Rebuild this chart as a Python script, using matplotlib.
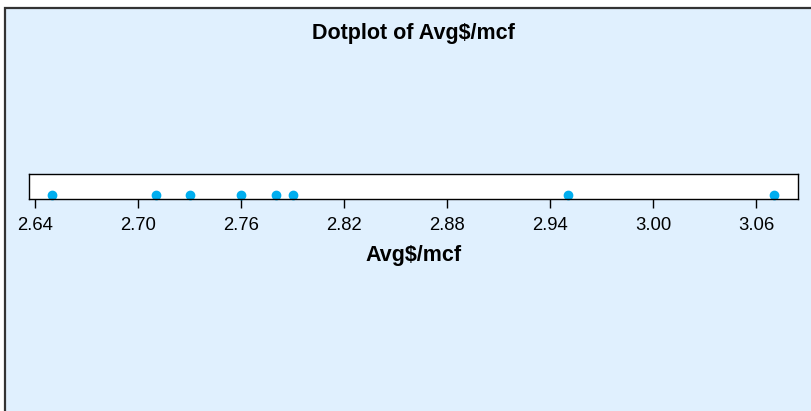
import matplotlib.pyplot as plt
from matplotlib.patches import Rectangle

plt.rcParams['font.family'] = ['Liberation Sans', 'DejaVu Sans']

# average price per mcf
avg_price = [2.65, 2.71, 2.73, 2.76, 2.78, 2.79, 2.95, 3.07]
ticks = [2.64, 2.70, 2.76, 2.82, 2.88, 2.94, 3.00, 3.06]
tick_labels = ['2.64', '2.70', '2.76', '2.82', '2.88', '2.94', '3.00', '3.06']

fig = plt.figure(figsize=(8.11, 4.11), dpi=100)
fig.patch.set_facecolor('white')

# light blue panel behind everything
panel = Rectangle((5 / 811, -0.1), 1.1, 1 - 7.5 / 411 + 0.1,
                  transform=fig.transFigure, facecolor='#e0f0fe',
                  edgecolor='#333333', linewidth=1.6, zorder=-5)
fig.patches.append(panel)

ax = fig.add_axes([29.3 / 811, 1 - 199.3 / 411, 768.4 / 811, 25 / 411])
ax.set_facecolor('white')
ax.plot(avg_price, [0.17] * len(avg_price), 'o', color='#00aeef',
        markersize=6, clip_on=False)

ax.set_xlim(2.6365, 3.084)
ax.set_ylim(0, 1)
ax.set_yticks([])
ax.set_xticks(ticks)
ax.set_xticklabels(tick_labels)
ax.tick_params(axis='x', direction='out', length=6.5, width=1,
               labelsize=13.3, pad=6.5)
for s in ax.spines.values():
    s.set_linewidth(1)

ax.set_xlabel('Avg$/mcf', fontsize=15.5, fontweight='bold', labelpad=8)
fig.text(413.5 / 811, 1 - 33 / 411, 'Dotplot of Avg$/mcf', ha='center',
         va='center', fontsize=15.5, fontweight='bold')

fig.savefig('out.png', dpi=100)
